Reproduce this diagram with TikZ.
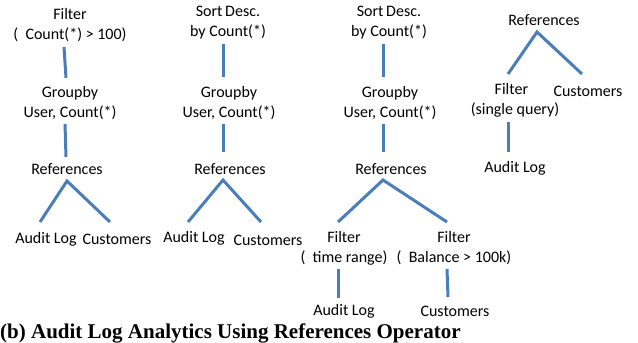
\documentclass[tikz,border=0pt]{standalone}
\usepackage{fontspec}
\setmainfont{Carlito}
\newfontfamily\capfont{Liberation Serif}
\begin{document}
\begin{tikzpicture}[x=1pt,y=-1pt,
  lbl/.style={inner sep=0pt,align=center,font=\fontsize{16}{20}\selectfont},
]
\definecolor{lineblue}{HTML}{4A7EBB}
\tikzset{edge/.style={draw=lineblue,line width=3pt}}
\useasboundingbox (0,0) rectangle (638,343);
% ---- tree 1
\node[lbl] (f1) at (70,25) {Filter\\(\ \ Count(*) > 100)};
\node[lbl] (g1) at (70,103) {Groupby\\User, Count(*)};
\node[lbl] (r1) at (67,169) {References};
\node[lbl] (a1) at (46,239) {Audit Log};
\node[lbl] (c1) at (117,239) {Customers};
\draw[edge] (64,47) -- (66,78);
\draw[edge] (65,124) -- (66,157);
\coordinate (v1l) at (40,222); \coordinate (v1a) at (67,181); \coordinate (v1r) at (110,222);
\draw[edge] (v1l) -- (v1a) -- (v1r);
% ---- tree 2
\node[lbl] (s2) at (228,23) {Sort\,Desc.\\by Count(*)};
\node[lbl] (g2) at (229,103) {Groupby\\User, Count(*)};
\node[lbl] (r2) at (230,169) {References};
\node[lbl] (a2) at (194,238) {Audit Log};
\node[lbl] (c2) at (268,240) {Customers};
\draw[edge] (223,44) -- (223,77);
\draw[edge] (223,124) -- (223,152);
\coordinate (v2l) at (188,222); \coordinate (v2a) at (223,180); \coordinate (v2r) at (261,222);
\draw[edge] (v2l) -- (v2a) -- (v2r);
% ---- tree 3
\node[lbl] (s3) at (389,23) {Sort\,Desc.\\by Count(*)};
\node[lbl] (g3) at (390,103) {Groupby\\User, Count(*)};
\node[lbl] (r3) at (391,169) {References};
\node[lbl] (fl3) at (344,248) {Filter\\(\ \ time range)};
\node[lbl] (fr3) at (454,248) {Filter\\(\ \ Balance > 100k)};
\node[lbl] (a3) at (344,311) {Audit Log};
\node[lbl] (c3) at (455,311) {Customers};
\draw[edge] (383,44) -- (383,77);
\draw[edge] (383,124) -- (383,152);
\coordinate (v3l) at (338,222); \coordinate (v3a) at (383,180); \coordinate (v3r) at (447,222);
\draw[edge] (v3l) -- (v3a) -- (v3r);
\draw[edge] (338,269) -- (338,298);
\draw[edge] (447,269) -- (448,297);
% ---- tree 4
\node[lbl] (r4) at (544,20) {References};
\node[lbl] (f4) at (515,100) {Filter\phantom{y}\\(single query)};
\node[lbl] (c4) at (588,91) {Customers};
\node[lbl] (a4) at (515,168) {Audit Log};
\coordinate (v4l) at (508,74); \coordinate (v4a) at (537,32); \coordinate (v4r) at (582,74);
\draw[edge] (v4l) -- (v4a) -- (v4r);
\draw[edge] (508,122) -- (508,152);
% ---- caption
\node[inner sep=0pt,anchor=base west,font=\capfont\bfseries\fontsize{21}{22}\selectfont] (cap) at (0,338) {(b) Audit Log Analytics Using References Operator};
\end{tikzpicture}
\end{document}
